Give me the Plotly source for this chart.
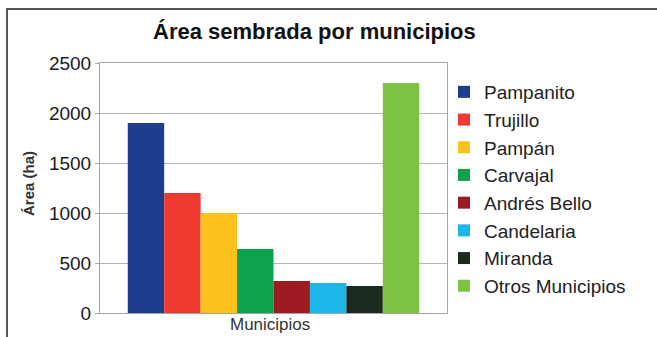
import plotly.graph_objects as go

# Area sown per municipality (hectares)
municipios = ["Pampanito", "Trujillo", "Pampán", "Carvajal", "Andrés Bello",
              "Candelaria", "Miranda", "Otros Municipios"]
area_ha = [1900, 1200, 1000, 640, 320, 300, 270, 2300]
colores = ["#1f3d8f", "#ee3a31", "#fdc11c", "#0ea24a", "#9c1c22",
           "#1db7ec", "#1d2a1f", "#7cc243"]
categoria = ["Municipios"]
y_ticks = [0, 500, 1000, 1500, 2000, 2500]

fig = go.Figure()
for nombre, valor, color in zip(municipios, area_ha, colores):
    fig.add_trace(go.Bar(
        x=categoria, y=[valor], name=nombre,
        marker=dict(color=color, line=dict(width=0)),
    ))

W, H = 657, 337
L, R, T, B = 100, 210, 63, 24
pw, ph = W - L - R, H - T - B

def px_x(x):
    return (x - L) / pw

def px_y(y):
    return (H - B - y) / ph

fig.update_layout(
    width=W, height=H,
    margin=dict(l=L, r=R, t=T, b=B, pad=0),
    paper_bgcolor="white", plot_bgcolor="white",
    barmode="group", bargap=0.16, bargroupgap=0,
    showlegend=True,
    font=dict(family="Liberation Sans, Arial, sans-serif", color="#222"),
    legend=dict(
        x=px_x(444), y=px_y(73), xanchor="left", yanchor="top",
        font=dict(size=19, color="#222"),
        tracegroupgap=0, itemwidth=30,
        bgcolor="rgba(0,0,0,0)",
    ),
    xaxis=dict(
        range=[-0.5, 0.5], showticklabels=False, showgrid=False,
        showline=True, linecolor="#a5a5a5", linewidth=1, mirror=True,
        ticks="", zeroline=False,
    ),
    yaxis=dict(
        range=[0, 2500], tickvals=y_ticks,
        showgrid=True, gridcolor="#b5b5b5", gridwidth=1,
        showline=True, linecolor="#a5a5a5", linewidth=1, mirror=True,
        ticks="outside", ticklen=4, tickcolor="#a5a5a5",
        tickfont=dict(size=19, color="#1a1a1a"),
        zeroline=False,
    ),
    shapes=[
        dict(type="rect", xref="paper", yref="paper",
             x0=px_x(7), x1=px_x(700), y0=px_y(400), y1=px_y(9),
             line=dict(color="#555555", width=2), layer="below"),
    ],
    annotations=[
        dict(text="<b>Área sembrada por municipios</b>", xref="paper", yref="paper",
             x=px_x(314), y=px_y(31), xanchor="center", yanchor="middle",
             showarrow=False, font=dict(size=22, color="#111")),
        dict(text="<b>Área (ha)</b>", xref="paper", yref="paper",
             x=px_x(28), y=px_y(184), xanchor="center", yanchor="middle",
             textangle=-90, showarrow=False, font=dict(size=15, color="#333")),
        dict(text="Municipios", xref="paper", yref="paper",
             x=px_x(270), y=px_y(336), xanchor="center", yanchor="bottom",
             showarrow=False, font=dict(size=17, color="#333")),
    ],
)

fig.write_html("out.html")
